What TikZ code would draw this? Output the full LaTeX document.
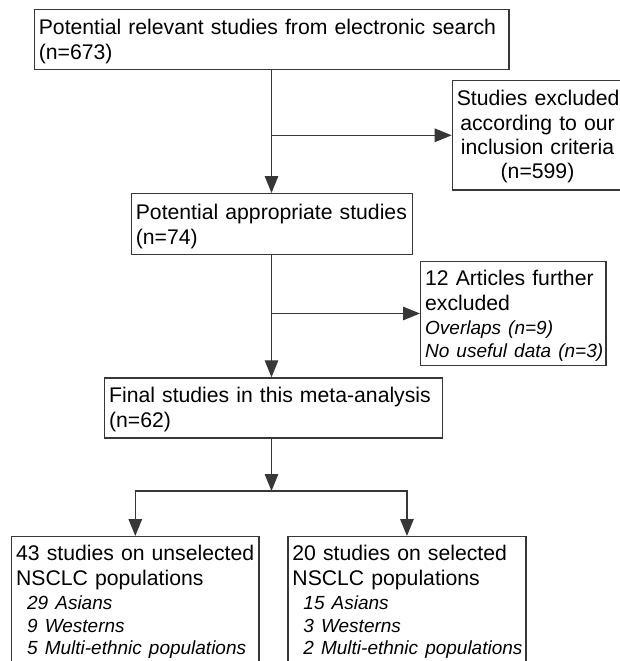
\documentclass[tikz,border=0pt]{standalone}
\usepackage{fontspec}
\setmainfont{Liberation Sans}
\usetikzlibrary{arrows.meta}
\definecolor{lc}{RGB}{55,55,55}
\newcommand\myfont{\fontsize{21.2}{24.4}\selectfont}
\newcommand\myital{\fontsize{19}{22.6}\selectfont\itshape}
\newcommand\indline[1]{\mbox{\hspace*{11pt}{\myital #1}}}
\begin{document}
\begin{tikzpicture}[x=1pt,y=-1pt,
  box/.style={draw=lc, line width=1.3pt, anchor=north west, inner xsep=4.5pt, inner ysep=0pt, align=left, font=\myfont},
  arr/.style={draw=lc, line width=1.3pt, -{Triangle[length=17pt,width=13.5pt]}},
  link/.style={draw=lc, line width=1.3pt}]
\useasboundingbox (0,0) rectangle (620,661);
\clip (0,0) rectangle (620,661);
\fill[white] (0,0) rectangle (620,661);
\node[box, text width=465.6pt, text height=25pt, text depth=35pt] (B1) at (33.7,9)
  {\mbox{Potential relevant studies from electronic search}\\\mbox{(n=673)}};
\node[box, align=center, text width=161.3pt, text height=25pt, text depth=84.3pt] (B3) at (451.7,80)
  {\mbox{Studies excluded}\\\mbox{according to our}\\\mbox{inclusion criteria}\\\mbox{(n=599)}};
\node[box, text width=272.3pt, text height=26pt, text depth=35pt] (B2) at (130.7,193)
  {\mbox{Potential appropriate studies}\\\mbox{(n=74)}};
\node[box, text width=176.3pt, text height=24.3pt, text depth=80pt] (B5) at (420,260.7)
  {\mbox{12 Articles further}\\\mbox{excluded}\\\mbox{\myital Overlaps (n=9)}\\[-1.8pt]\mbox{\myital No useful data (n=3)}};
\node[box, text width=329pt, text height=25pt, text depth=35pt] (B4) at (104,377.3)
  {\mbox{Final studies in this meta-analysis}\\\mbox{(n=62)}};
\node[box, text width=238.3pt, text height=24pt, text depth=130pt] (B6) at (11,536)
  {\mbox{43 studies on unselected}\\\mbox{NSCLC populations}\\\indline{29 Asians}\\[-1.8pt]\indline{9 Westerns}\\[-1.8pt]\indline{5 Multi-ethnic populations}};
\node[box, text width=229pt, text height=24pt, text depth=130pt] (B7) at (287.3,536)
  {\mbox{20 studies on selected}\\\mbox{NSCLC populations}\\\indline{15 Asians}\\[-1.8pt]\indline{3 Westerns}\\[-1.8pt]\indline{2 Multi-ethnic populations}};
\coordinate (X) at (271.5,0);
\coordinate (J) at (271.5,491);
\draw[arr] (X |- B1.south) -- (X |- B2.north);
\draw[arr] (X |- B3.west) -- (B3.west);
\draw[arr] (X |- B2.south) -- (X |- B4.north);
\draw[arr] (X |- B5.west) -- (B5.west);
\draw[arr] (X |- B4.south) -- (J);
\draw[arr] (J) -| (B6.north);
\draw[arr] (J) -| (B7.north);
\end{tikzpicture}
\end{document}
